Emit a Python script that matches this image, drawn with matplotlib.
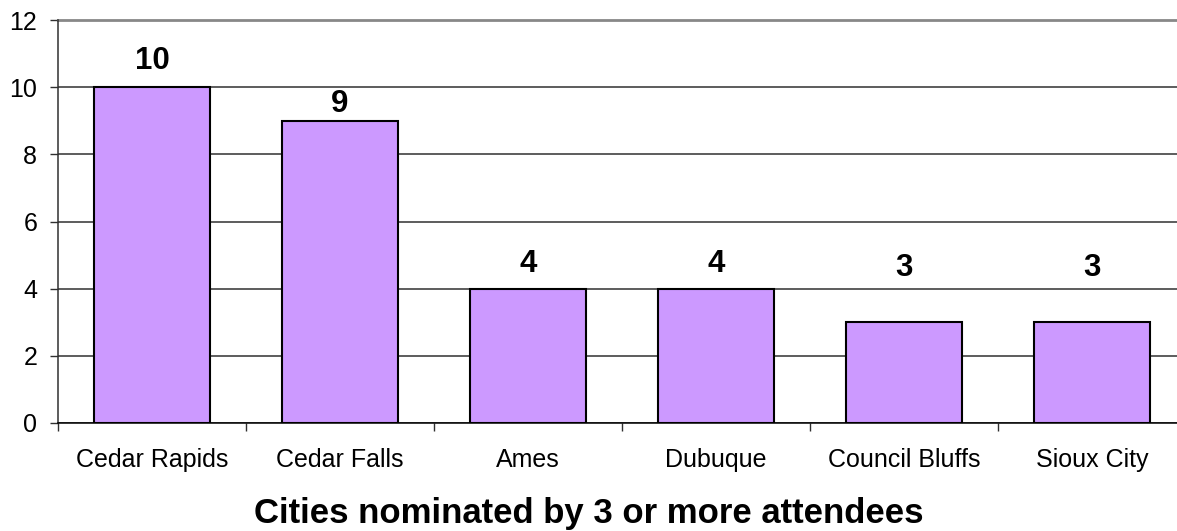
import matplotlib
matplotlib.use("Agg")
import matplotlib.pyplot as plt
import numpy as np

categories = ["Cedar Rapids", "Cedar Falls", "Ames", "Dubuque", "Council Bluffs", "Sioux City"]
values = [10, 9, 4, 4, 3, 3]
yticks = [0, 2, 4, 6, 8, 10, 12]
xlabel = "Cities nominated by 3 or more attendees"

# label vertical offsets (points) -- style only
label_offsets = [19, 12, 17.5, 17.5, 39, 39]

plt.rcParams['font.family'] = ['Liberation Sans', 'DejaVu Sans']

fig = plt.figure(figsize=(11.77, 5.31), dpi=100)
ax = fig.add_axes([58/1177, 108/531, 1128/1177, 403/531])

x = np.arange(len(categories))
ax.bar(x, values, width=0.62, color="#CC99FF", edgecolor="black", linewidth=1.5, zorder=3)

ax.set_xlim(-0.5, len(categories) - 0.5)
ax.set_ylim(0, 12)
ax.set_yticks(yticks)
ax.set_yticklabels([str(v) for v in yticks])
ax.yaxis.grid(True, color="#303030", linewidth=1.1, zorder=0)
ax.set_axisbelow(True)

ax.set_xticks(x)
ax.set_xticklabels(categories)
ax.set_xticks(np.arange(-0.5, len(categories)), minor=True)
ax.tick_params(axis='x', which='major', length=0, pad=18, labelsize=18)
ax.tick_params(axis='x', which='minor', length=6, width=1, direction='out', color='#303030')
ax.tick_params(axis='y', length=6, width=1, direction='out', pad=9, labelsize=18, color='#303030')

for s in ['top', 'right']:
    ax.spines[s].set_visible(False)
ax.spines['left'].set_color('#303030')
ax.spines['left'].set_linewidth(1.1)
ax.spines['bottom'].set_color('black')
ax.spines['bottom'].set_linewidth(1.1)
ax.axhline(12, color='#888888', linewidth=2, zorder=1, clip_on=False)

for xi, v, off in zip(x, values, label_offsets):
    ax.annotate(str(v), (xi, v), xytext=(0, off), textcoords='offset points',
                ha='center', va='center', fontsize=22.5, fontweight='bold')

fig.text(0.5, 8/531, xlabel, ha='center', va='baseline', fontsize=25, fontweight='bold')

fig.savefig("out.png", dpi=100)
